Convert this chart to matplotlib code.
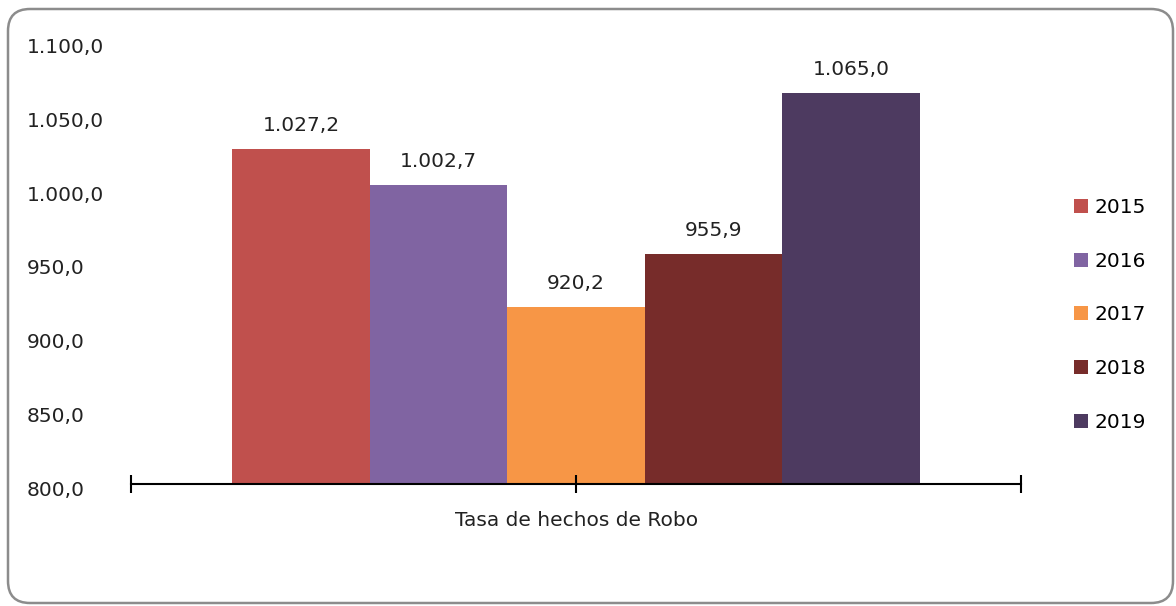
import matplotlib.pyplot as plt
from matplotlib.patches import FancyBboxPatch
from matplotlib.ticker import FuncFormatter
from matplotlib.transforms import ScaledTranslation, IdentityTransform

plt.rcParams['font.family'] = ['DejaVu Sans']

# datos
category = 'Tasa de hechos de Robo'
years = ['2015', '2016', '2017', '2018', '2019']
values = [1027.2, 1002.7, 920.2, 955.9, 1065.0]
colors = ['#C0504D', '#8064A2', '#F79646', '#772C2A', '#4D3A60']
y_ticks = [800, 850, 900, 950, 1000, 1050, 1100]


def es_num(v, pos=None):
    """Formato de número en español: 1.027,2"""
    s = f'{v:,.1f}'
    return s.replace(',', 'X').replace('.', ',').replace('X', '.')


fig = plt.figure(figsize=(11.76, 6.06), dpi=100)
ax = fig.add_axes([0.1114, 0.2013, 0.757, 0.730])

# marco redondeado alrededor del gráfico (en píxeles)
frame = FancyBboxPatch((8, 3), 1165, 594, boxstyle='round,pad=0,rounding_size=22',
                       transform=IdentityTransform(), facecolor='none', edgecolor='#8c8c8c',
                       linewidth=1.8)
fig.patches.append(frame)

fs = 14.5
n = len(years)
width = 0.772 / n
for i, (yr, v, c) in enumerate(zip(years, values, colors)):
    x = -0.386 + width * (i + 0.5)
    bars = ax.bar(x, v - 800, width, bottom=800, color=c, label=yr)
    ax.bar_label(bars, labels=[es_num(v)], padding=10, fontsize=fs, color='#222222')

ax.set_xlim(-0.5, 0.5)
ax.set_ylim(800, 1100)
ax.set_yticks(y_ticks)
ax.yaxis.set_major_formatter(FuncFormatter(es_num))
ax.tick_params(axis='y', length=0, labelsize=fs, pad=75, labelcolor='#222222')
shift = ScaledTranslation(0, -4 / 100, fig.dpi_scale_trans)
for lbl in ax.get_yticklabels():
    lbl.set_horizontalalignment('left')
    lbl.set_transform(lbl.get_transform() + shift)

ax.set_xticks([0])
ax.set_xticklabels([category])
ax.set_xticks([-0.5, 0.5], minor=True)
ax.tick_params(axis='x', which='both', direction='inout', length=13, width=1.5,
               labelsize=fs, pad=13, labelcolor='#222222')

for side in ['top', 'right', 'left']:
    ax.spines[side].set_visible(False)
ax.spines['bottom'].set_linewidth(1.5)

fig.legend(loc='upper left', bbox_to_anchor=(0.898, 0.703), frameon=False,
           fontsize=fs, handlelength=0.68, handleheight=0.68, handletextpad=0.35,
           labelspacing=1.72)

fig.savefig('out.png', dpi=100)
